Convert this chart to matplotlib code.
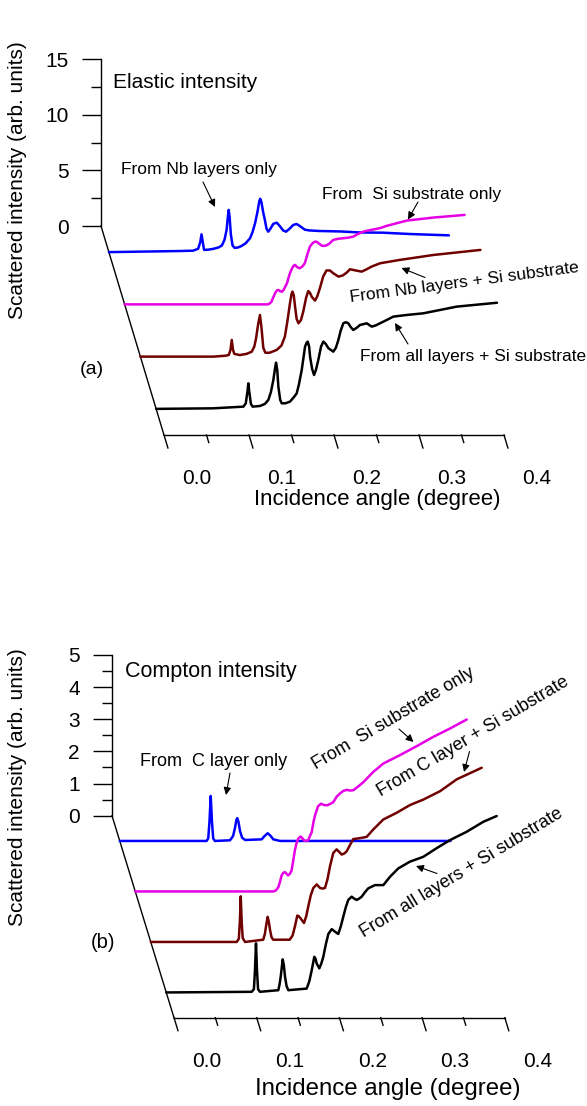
import numpy as np
import matplotlib
matplotlib.use('Agg')
import matplotlib.pyplot as plt
import matplotlib.transforms as mt
import matplotlib.patches as mpatches
from matplotlib.ticker import MultipleLocator

plt.rcParams['font.family'] = ['Liberation Sans', 'DejaVu Sans']

# ---------------- data ----------------
angle_ticks = [0.0, 0.1, 0.2, 0.3, 0.4]
angle_minor_ticks = [0.05, 0.15, 0.25, 0.35]
angle_tick_labels = ['0.0', '0.1', '0.2', '0.3', '0.4']
trace_depths = [0.5, 1.5, 2.5, 3.5]
trace_colors = ['#0000FF', '#E600E6', '#700000', '#000000']

# Elastic intensity (panel a)
el_nb_angle = [0.0, 0.084, 0.099, 0.105, 0.1075, 0.109, 0.1105, 0.112, 0.117, 0.123, 0.129, 0.133,
               0.136, 0.1385, 0.140, 0.141, 0.142, 0.1435, 0.1455, 0.148, 0.152, 0.156, 0.161,
               0.166, 0.169, 0.172, 0.175, 0.177, 0.178, 0.1795, 0.1815, 0.1835, 0.1855, 0.1875,
               0.190, 0.1935, 0.1975, 0.201, 0.205, 0.2085, 0.2125, 0.217, 0.221, 0.2255,
               0.2305, 0.236, 0.248, 0.272, 0.295, 0.322, 0.354, 0.40]
el_nb_int = [0.0, 0.1, 0.13, 0.3, 0.9, 1.6, 0.9, 0.2, 0.22, 0.3, 0.42, 0.6,
             1.1, 2.0, 3.2, 3.8, 3.2, 1.6, 0.6, 0.38, 0.42, 0.55, 0.8,
             1.24, 1.8, 2.6, 3.7, 4.6, 4.8, 4.5, 3.6, 2.9, 2.1, 1.84,
             2.1, 2.55, 2.65, 2.35, 1.95, 1.84, 2.1, 2.45, 2.53, 2.3,
             2.02, 1.95, 1.9, 1.86, 1.77, 1.75, 1.63, 1.51]

el_si_angle = [0.0, 0.169, 0.1725, 0.175, 0.177, 0.179, 0.181, 0.183, 0.185, 0.187, 0.189, 0.191,
               0.194, 0.197, 0.199, 0.2005, 0.203, 0.206, 0.209, 0.212, 0.215, 0.218, 0.221,
               0.224, 0.226, 0.229, 0.232, 0.234, 0.237, 0.240, 0.2455, 0.251, 0.257, 0.263,
               0.269, 0.275, 0.281, 0.29, 0.3005, 0.308, 0.32, 0.332, 0.363, 0.40]
el_si_int = [0.0, 0.0, 0.2, 0.65, 1.0, 1.25, 1.3, 1.18, 1.14, 1.3, 1.6, 1.9,
             2.7, 3.25, 3.5, 3.55, 3.35, 3.25, 3.4, 3.7, 4.5, 5.2, 5.5,
             5.65, 5.63, 5.45, 5.28, 5.26, 5.3, 5.41, 5.8, 5.9, 5.95, 6.0,
             6.1, 6.35, 6.55, 6.7, 6.86, 7.06, 7.3, 7.54, 7.81, 8.05]

el_nbsi_angle = [0.0, 0.086, 0.1, 0.104, 0.106, 0.1075, 0.109, 0.1105, 0.117, 0.125, 0.131, 0.134,
                 0.136, 0.1385, 0.1407, 0.1425, 0.1446, 0.147, 0.152, 0.1604, 0.166, 0.170,
                 0.173, 0.176, 0.178, 0.179, 0.1805, 0.182, 0.1838, 0.186, 0.189, 0.1916,
                 0.195, 0.1975, 0.1995, 0.2015, 0.2054, 0.208, 0.2113, 0.215, 0.219, 0.223,
                 0.227, 0.233, 0.238, 0.2427, 0.2466, 0.2535, 0.2604, 0.266, 0.272, 0.282,
                 0.305, 0.345, 0.40]
el_nbsi_int = [0.0, 0.0, 0.08, 0.15, 0.6, 1.5, 0.6, 0.25, 0.14, 0.25, 0.44, 0.9,
               1.6, 2.9, 3.75, 2.6, 0.8, 0.35, 0.35, 0.6, 1.0, 1.8,
               3.2, 4.8, 5.7, 5.85, 5.5, 4.5, 3.4, 3.0, 3.3, 4.05,
               5.3, 5.9, 5.75, 5.4, 5.04, 5.4, 6.18, 7.2, 7.76, 7.75,
               7.5, 7.2, 7.3, 7.56, 7.86, 7.75, 7.65, 7.85, 8.1, 8.4,
               8.7, 9.15, 9.6]

el_all_angle = [0.0, 0.067, 0.1026, 0.1055, 0.1075, 0.1085, 0.1095, 0.1115, 0.1135, 0.1222, 0.128,
                0.132, 0.135, 0.1379, 0.140, 0.1411, 0.1425, 0.1438, 0.146, 0.1478, 0.152,
                0.1575, 0.1625, 0.1654, 0.168, 0.1713, 0.1752, 0.177, 0.1784, 0.180, 0.1811,
                0.1835, 0.1858, 0.188, 0.1908, 0.194, 0.1967, 0.1995, 0.2026, 0.2085, 0.2115,
                0.2144, 0.217, 0.2202, 0.2231, 0.2261, 0.229, 0.232, 0.236, 0.2399, 0.2478,
                0.2536, 0.258, 0.2634, 0.27, 0.279, 0.2948, 0.3144, 0.334, 0.3536, 0.401]
el_all_int = [0.0, 0.05, 0.2, 0.5, 1.6, 2.3, 1.6, 0.45, 0.2, 0.26, 0.45,
              0.8, 1.5, 2.6, 3.7, 4.16, 3.5, 2.0, 0.8, 0.5, 0.5,
              0.65, 1.1, 1.4, 2.2, 3.5, 5.6, 5.95, 6.05, 5.6, 4.7,
              3.6, 3.05, 3.5, 4.4, 5.6, 6.05, 5.85, 5.46, 5.15, 5.5,
              6.2, 7.0, 7.7, 7.8, 7.7, 7.35, 7.1, 7.3, 7.55, 7.7,
              7.4, 7.5, 7.7, 7.95, 8.3, 8.45, 8.6, 8.9, 9.2, 9.55]

# Compton intensity (panel b)
co_c_angle = [0.0, 0.105, 0.107, 0.1085, 0.110, 0.1115, 0.113, 0.115, 0.1333, 0.137, 0.1394,
              0.141, 0.1421, 0.1435, 0.1454, 0.148, 0.1516, 0.1716, 0.175, 0.1789, 0.182,
              0.1857, 0.1938, 0.40]
co_c_int = [0.0, 0.0, 0.08, 0.6, 1.4, 0.6, 0.08, 0.0, 0.02, 0.15, 0.41,
            0.65, 0.71, 0.6, 0.31, 0.1, 0.03, 0.05, 0.15, 0.24, 0.17,
            0.05, 0.0, 0.0]

co_si_angle = [0.0, 0.167, 0.17, 0.173, 0.175, 0.177, 0.179, 0.181, 0.183, 0.185, 0.187, 0.189,
               0.191, 0.193, 0.195, 0.197, 0.200, 0.202, 0.204, 0.2065, 0.209, 0.2134, 0.2154,
               0.2174, 0.221, 0.2246, 0.228, 0.2319, 0.2355, 0.2395, 0.2436, 0.2476, 0.2517,
               0.2557, 0.2597, 0.2637, 0.2698, 0.2758, 0.2878, 0.300, 0.320, 0.3403, 0.3604,
               0.3806, 0.4008]
co_si_int = [0.0, 0.0, 0.03, 0.13, 0.3, 0.5, 0.58, 0.6, 0.55, 0.5, 0.55, 0.65,
             0.95, 1.28, 1.5, 1.64, 1.71, 1.66, 1.59, 1.57, 1.59, 1.85, 2.15,
             2.37, 2.65, 2.73, 2.69, 2.68, 2.72, 2.78, 2.95, 3.05, 3.13,
             3.16, 3.14, 3.15, 3.27, 3.4, 3.72, 3.98, 4.24, 4.52, 4.81,
             5.07, 5.35]

co_csi_angle = [0.0, 0.104, 0.1065, 0.1077, 0.1088, 0.11, 0.1112, 0.114, 0.136, 0.138, 0.1394,
                0.1414, 0.1428, 0.1442, 0.146, 0.148, 0.168, 0.1715, 0.1744, 0.1772, 0.179,
                0.1813, 0.1853, 0.188, 0.1905, 0.1935, 0.1966, 0.2007, 0.2047, 0.2077, 0.2107,
                0.2137, 0.2168, 0.2207, 0.2248, 0.2279, 0.2309, 0.2339, 0.2369, 0.241, 0.2449,
                0.253, 0.2611, 0.2691, 0.2812, 0.2974, 0.3135, 0.3296, 0.3498, 0.37, 0.4002]
co_csi_int = [0.0, 0.0, 0.1, 0.6, 1.42, 0.6, 0.12, 0.0, 0.07, 0.25, 0.49,
              0.78, 0.62, 0.38, 0.15, 0.07, 0.07, 0.2, 0.49, 0.82, 0.8,
              0.73, 0.59, 0.8, 1.11, 1.45, 1.68, 1.79, 1.68, 1.66, 1.68,
              1.95, 2.36, 2.77, 2.88, 2.8, 2.72, 2.75, 2.82, 3.02, 3.2,
              3.23, 3.27, 3.5, 3.81, 4.02, 4.26, 4.43, 4.69, 5.06, 5.42]

co_all_angle = [0.0, 0.1033, 0.106, 0.1073, 0.1085, 0.1097, 0.111, 0.1134, 0.1355, 0.137, 0.1384,
                0.1408, 0.1422, 0.1436, 0.1455, 0.1476, 0.1698, 0.173, 0.1759, 0.179, 0.1805,
                0.1819, 0.1851, 0.1875, 0.1899, 0.193, 0.196, 0.2001, 0.2041, 0.208, 0.211,
                0.2141, 0.2171, 0.2201, 0.2242, 0.2272, 0.2303, 0.2333, 0.2363, 0.2403, 0.2443,
                0.2524, 0.2625, 0.2706, 0.2806, 0.2947, 0.3108, 0.327, 0.3431, 0.3633, 0.3834,
                0.3996]
co_all_int = [0.0, 0.02, 0.1, 0.7, 1.53, 0.7, 0.1, 0.02, 0.07, 0.25, 0.49,
              1.03, 0.85, 0.49, 0.2, 0.07, 0.12, 0.35, 0.69, 1.11, 1.05,
              0.9, 0.75, 0.9, 1.11, 1.5, 1.82, 1.97, 1.89, 1.82, 2.05,
              2.36, 2.65, 2.88, 2.98, 2.92, 2.88, 2.92, 2.98, 3.12, 3.24,
              3.34, 3.34, 3.6, 3.86, 4.07, 4.22, 4.49, 4.74, 5.0, 5.31,
              5.49]

# ---------------- figure ----------------
W, H = 587, 1106
fig = plt.figure(figsize=(W / 100, H / 100), dpi=100)


def fx(x):
    return x / W


def fy(y):
    return 1 - y / H


def panel(x_left, y_zero, x_right, y_top, ymax, ymaj, ymin, ddx, ddy, traces, lab_dy):
    ax = fig.add_axes([fx(x_left), fy(y_zero), (x_right - x_left) / W, (y_zero - y_top) / H])
    ax.set_xlim(0, 0.4)
    ax.set_ylim(0, ymax)
    ax.patch.set_visible(False)
    for s in ['top', 'right', 'bottom']:
        ax.spines[s].set_visible(False)
    ax.spines['left'].set_linewidth(1.0)
    ax.set_xticks([])
    ax.yaxis.set_major_locator(MultipleLocator(ymaj))
    ax.yaxis.set_minor_locator(MultipleLocator(ymin))
    ax.tick_params(axis='y', which='major', length=13.7, width=1.0, pad=9.4, labelsize=15)
    ax.tick_params(axis='y', which='minor', length=7.2, width=1.0)

    def trace_trans(d):
        return ax.transData + mt.Affine2D().translate(d * ddx, -d * ddy)

    def depth_trans(t):
        return (mt.Affine2D(np.array([[ddx, 0, 0], [-ddy, 0, 0], [0, 0, 1]]))
                + mt.ScaledTranslation(t, 0, ax.transData))

    n_depth = 4
    # depth axis
    ax.plot([0, n_depth], [0, 0], color='k', lw=1.0, transform=depth_trans(0), clip_on=False)
    # front angle axis
    ax.plot(ax.get_xlim(), [0, 0], color='k', lw=1.0, transform=trace_trans(n_depth), clip_on=False)
    for t in angle_ticks:
        ax.plot([n_depth, n_depth + 13 / ddy], [0, 0], color='k', lw=1.0,
                transform=depth_trans(t), clip_on=False)
    for t in angle_minor_ticks:
        ax.plot([n_depth, n_depth + 7.5 / ddy], [0, 0], color='k', lw=1.0,
                transform=depth_trans(t), clip_on=False)
    for t, lab in zip(angle_ticks, angle_tick_labels):
        ax.text(t, 0, lab, transform=trace_trans(n_depth) + mt.Affine2D().translate(33, -lab_dy),
                ha='center', va='baseline', fontsize=15)
    # traces
    for (a, i), d, c in zip(traces, trace_depths, trace_colors):
        ax.plot(a, i, color=c, lw=1.8, transform=trace_trans(d), clip_on=False,
                solid_joinstyle='round', solid_capstyle='round')
    return ax


ax_a = panel(101, 226, 441, 59.3, 15, 5, 2.5, 15.75, 52.25,
             [(el_nb_angle, el_nb_int), (el_si_angle, el_si_int),
              (el_nbsi_angle, el_nbsi_int), (el_all_angle, el_all_int)], 48.5)
ax_b = panel(112, 815.7, 442.8, 655, 5, 1, 0.5, 15.5, 50.5,
             [(co_c_angle, co_c_int), (co_si_angle, co_si_int),
              (co_csi_angle, co_csi_int), (co_all_angle, co_all_int)], 49.5)


def ftext(x, y, s, size, rot=0, ha='center', va='center'):
    fig.text(fx(x), fy(y), s, fontsize=size, rotation=rot, ha=ha, va=va,
             rotation_mode='anchor')


def farrow(x1, y1, x2, y2):
    fig.add_artist(mpatches.FancyArrowPatch(
        (fx(x1), fy(y1)), (fx(x2), fy(y2)), transform=fig.transFigure,
        arrowstyle='-|>', mutation_scale=11, lw=0.8, color='k', shrinkA=0, shrinkB=0))


# Axis labels
ftext(18, 180, 'Scattered intensity (arb. units)', 15, rot=90)
ftext(18, 787, 'Scattered intensity (arb. units)', 15, rot=90)
ftext(377, 505, 'Incidence angle (degree)', 16, va='baseline')
ftext(388, 1095, 'Incidence angle (degree)', 17.3, va='baseline')

# Panel (a) annotations
ftext(113, 83, 'Elastic intensity', 15, ha='left')
ftext(92, 369, '(a)', 14)
ftext(199, 169, 'From Nb layers only', 12.5)
farrow(203, 182, 215, 207)
ftext(412, 194, 'From  Si substrate only', 12.5)
farrow(418, 202, 408, 219.5)
ftext(464, 283, 'From Nb layers + Si substrate', 12.5, rot=7.5)
farrow(425, 277.5, 401.5, 268)
ftext(473, 356, 'From all layers + Si substrate', 12.5)
farrow(408, 344, 395, 323)

# Panel (b) annotations
ftext(125, 672, 'Compton intensity', 15.5, ha='left')
ftext(103, 942, '(b)', 14.5)
ftext(214, 761, 'From  C layer only', 13)
farrow(230, 773, 226, 795)
ftext(393, 719, 'From  Si substrate only', 13, rot=30.5)
farrow(399, 729, 413.5, 742)
ftext(473, 737, 'From C layer + Si substrate', 13, rot=30.7)
farrow(469.5, 751.5, 464, 772)
ftext(462, 873, 'From all layers + Si substrate', 13, rot=31.3)
farrow(437, 873.5, 416, 866)

fig.savefig('out.png', dpi=100)
